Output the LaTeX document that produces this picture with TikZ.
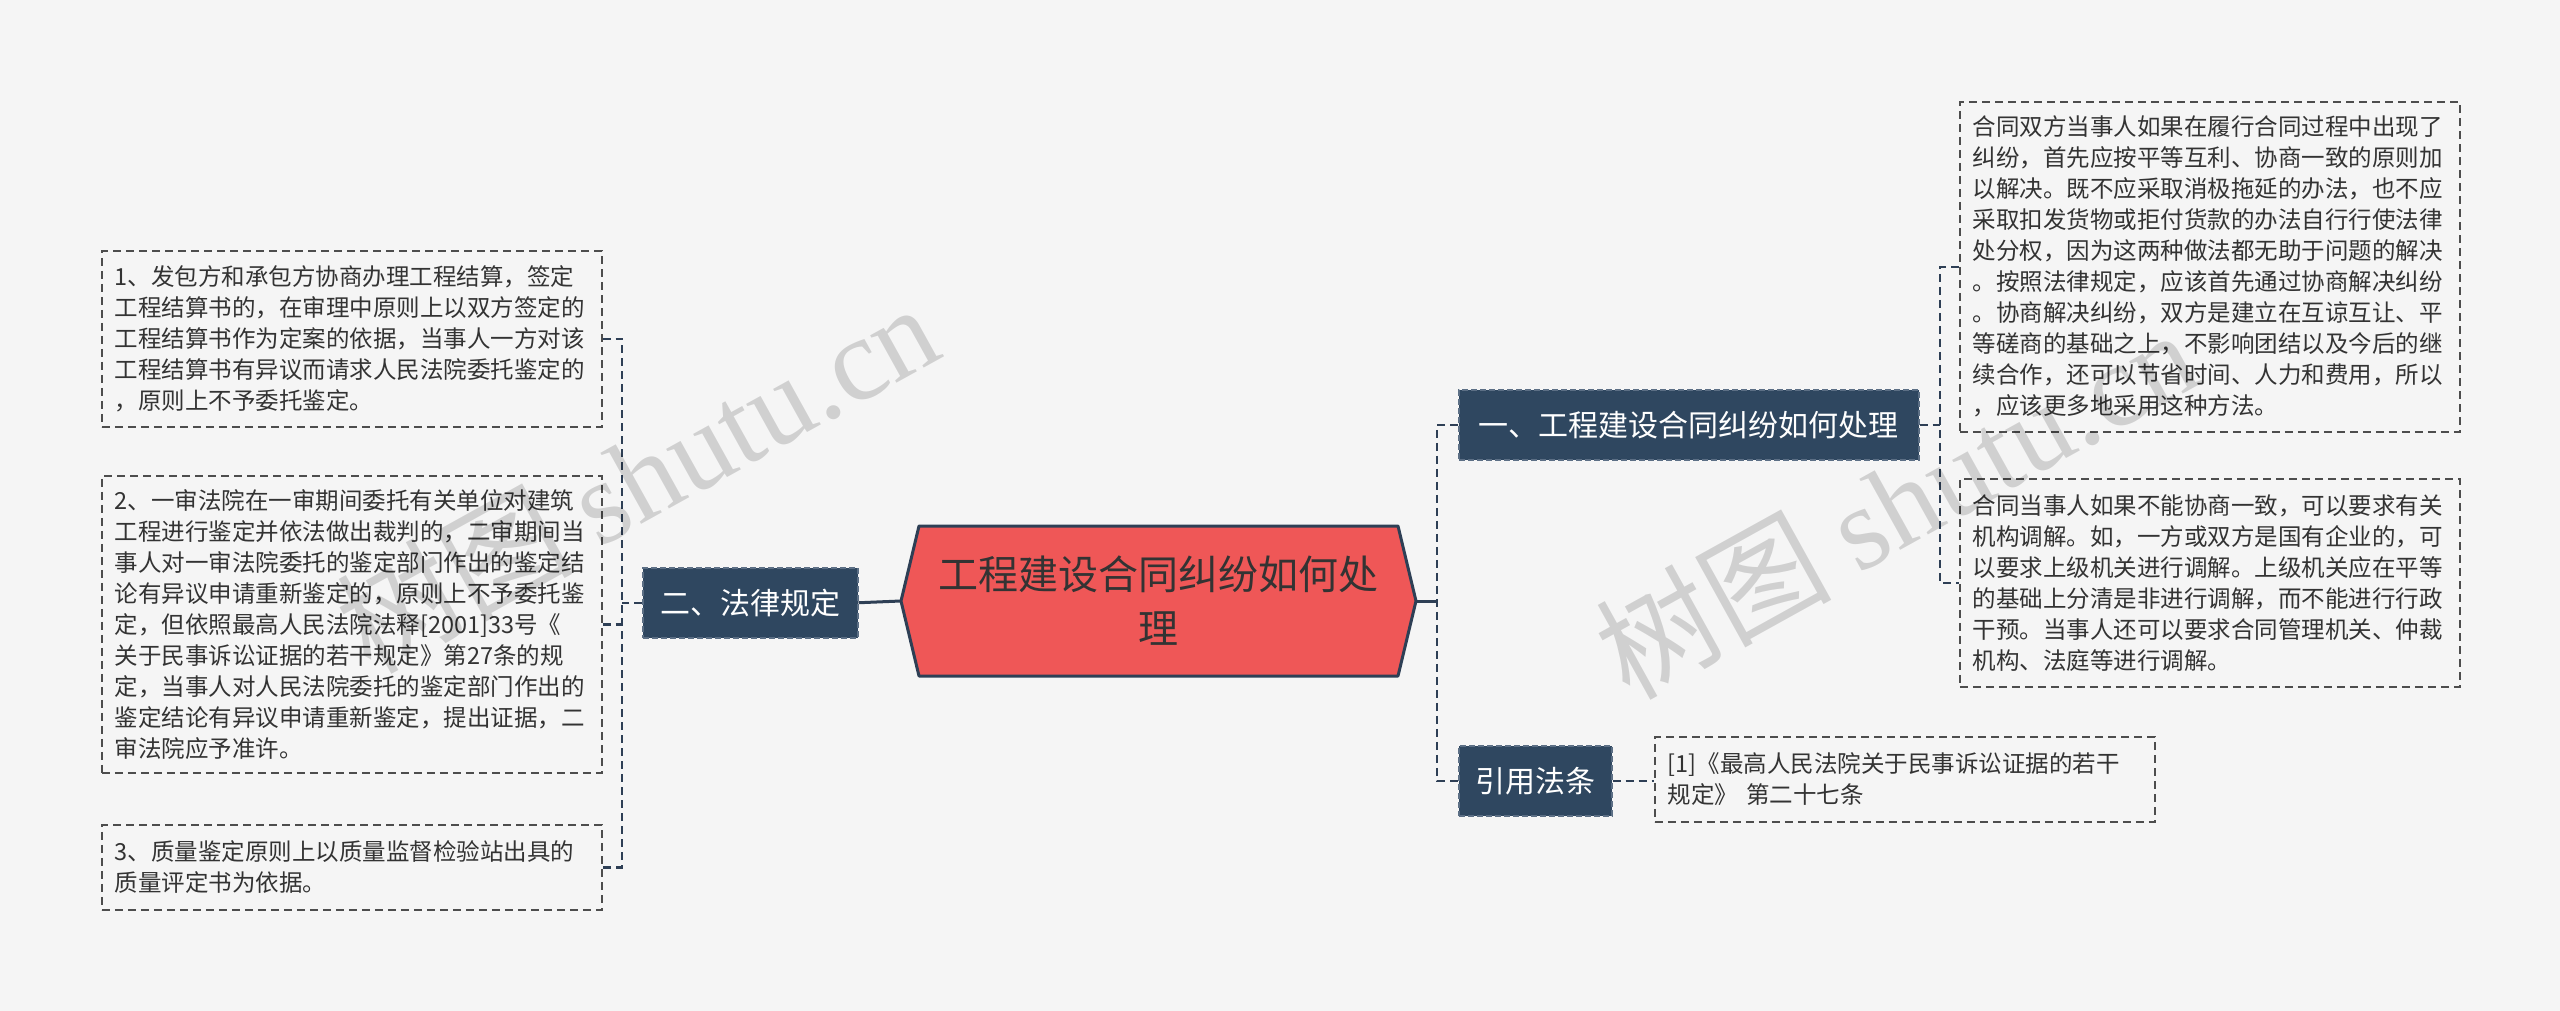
\documentclass[tikz,border=0pt]{standalone}
\usepackage{fontspec}
\setmainfont{Noto Sans CJK SC}
\newfontfamily\wmlatin{Liberation Serif}
\usetikzlibrary{calc}
\definecolor{bg}{HTML}{F5F5F5}
\definecolor{navy}{HTML}{2F4760}
\definecolor{topicline}{HTML}{5C6F85}
\definecolor{navyline}{HTML}{2E3F55}
\definecolor{hexred}{HTML}{EF5757}
\definecolor{leafline}{HTML}{4D4D4D}
\definecolor{txt}{HTML}{333333}
\begin{document}
\begin{tikzpicture}[x=1pt,y=-1pt,
  leaf/.style={draw=leafline, line width=1.6pt, dash pattern=on 8pt off 5pt, fill=bg, text=txt,
    text width=474pt, inner xsep=13pt, inner ysep=0pt, align=left, anchor=north west,
    font=\fontsize{23.5}{31}\selectfont},
  topic/.style={fill=navy, draw=topicline, line width=1.5pt, dash pattern=on 6pt off 3pt,
    text=white, font=\fontsize{30}{36}\selectfont, minimum height=70pt, inner sep=0pt,
    anchor=north west, align=center},
  conn/.style={draw=navyline, line width=2.5pt, dash pattern=on 8pt off 5pt},
  solidconn/.style={draw=navyline, line width=3pt},
  watermark/.style={rotate=29, anchor=base west, opacity=0.15, text=black,
    font=\fontsize{118}{118}\selectfont}
]
\useasboundingbox (0,0) rectangle (2560,1011);
\fill[bg] (0,0) rectangle (2560,1011);

% central hexagon
\coordinate (cc) at (1158.5,601);
\filldraw[fill=hexred, draw=navyline, line width=3pt, line join=round]
  ($(cc)+(-257.5,0)$) -- ($(cc)+(-239.5,-75)$) -- ($(cc)+(239.5,-75)$) --
  ($(cc)+(257.5,0)$) -- ($(cc)+(239.5,75)$) -- ($(cc)+(-239.5,75)$) -- cycle;
\node[font=\fontsize{40}{54}\selectfont, text=txt, align=center, minimum width=515pt,
  minimum height=150pt, inner sep=0pt] (center) at (cc) {工程建设合同纠纷如何处\\理};

% topic nodes
\node[topic, minimum width=215pt] (er) at (642,567) {二、法律规定};
\node[topic, minimum width=460pt] (yi) at (1458,389) {一、工程建设合同纠纷如何处理};
\node[topic, minimum width=153pt] (yy) at (1458,745) {引用法条};

% left leaves
\node[leaf, minimum height=176pt] (L1) at (101,250) {1、发包方和承包方协商办理工程结算，签定\\工程结算书的，在审理中原则上以双方签定的\\工程结算书作为定案的依据，当事人一方对该\\工程结算书有异议而请求人民法院委托鉴定的\\，原则上不予委托鉴定。};
\node[leaf, minimum height=297pt] (L2) at (101,475) {2、一审法院在一审期间委托有关单位对建筑\\工程进行鉴定并依法做出裁判的，二审期间当\\事人对一审法院委托的鉴定部门作出的鉴定结\\论有异议申请重新鉴定的，原则上不予委托鉴\\定，但依照最高人民法院法释[2001]33号《\\关于民事诉讼证据的若干规定》第27条的规\\定，当事人对人民法院委托的鉴定部门作出的\\鉴定结论有异议申请重新鉴定，提出证据，二\\审法院应予准许。};
\node[leaf, minimum height=85pt] (L3) at (101,824) {3、质量鉴定原则上以质量监督检验站出具的\\质量评定书为依据。};

% right leaves
\node[leaf, minimum height=330pt] (R1) at (1959,101) {合同双方当事人如果在履行合同过程中出现了\\纠纷，首先应按平等互利、协商一致的原则加\\以解决。既不应采取消极拖延的办法，也不应\\采取扣发货物或拒付货款的办法自行行使法律\\处分权，因为这两种做法都无助于问题的解决\\。按照法律规定，应该首先通过协商解决纠纷\\。协商解决纠纷，双方是建立在互谅互让、平\\等磋商的基础之上，不影响团结以及今后的继\\续合作，还可以节省时间、人力和费用，所以\\，应该更多地采用这种方法。};
\node[leaf, minimum height=208pt] (R2) at (1959,478) {合同当事人如果不能协商一致，可以要求有关\\机构调解。如，一方或双方是国有企业的，可\\以要求上级机关进行调解。上级机关应在平等\\的基础上分清是非进行调解，而不能进行行政\\干预。当事人还可以要求合同管理机关、仲裁\\机构、法庭等进行调解。};
\node[leaf, minimum height=85pt] (R3) at (1654,736) {[1]《最高人民法院关于民事诉讼证据的若干\\规定》 第二十七条};

% connectors
\coordinate (lb) at (622,601);
\coordinate (rb) at (1437,601);
\coordinate (rb2) at (1940,424);

\draw[solidconn] (er.east) -- (center.west);
\draw[conn] (er.west) -- (er.west -| lb);
\draw[conn] (L1.east) -- (L1.east -| lb) -- (L3.east -| lb) -- (L3.east);
\draw[conn] (L2.east) -- (L2.east -| lb);

\draw[solidconn] (center.east) -- (center.east -| rb);
\draw[conn] (yi.west) -- (yi.west -| rb) -- (yy.west -| rb) -- (yy.west);
\draw[conn] (yi.east) -- (yi.east -| rb2);
\draw[conn] (R1.west) -- (R1.west -| rb2) -- (R2.west -| rb2) -- (R2.west);
\draw[conn] (yy.east) -- (yy.east -| R3.west);

% watermarks
\node[watermark] (wm1) at (367,677) {树图 {\wmlatin shutu.cn}};
\node[watermark] (wm2) at (1626,703) {树图 {\wmlatin shutu.cn}};
\end{tikzpicture}
\end{document}
